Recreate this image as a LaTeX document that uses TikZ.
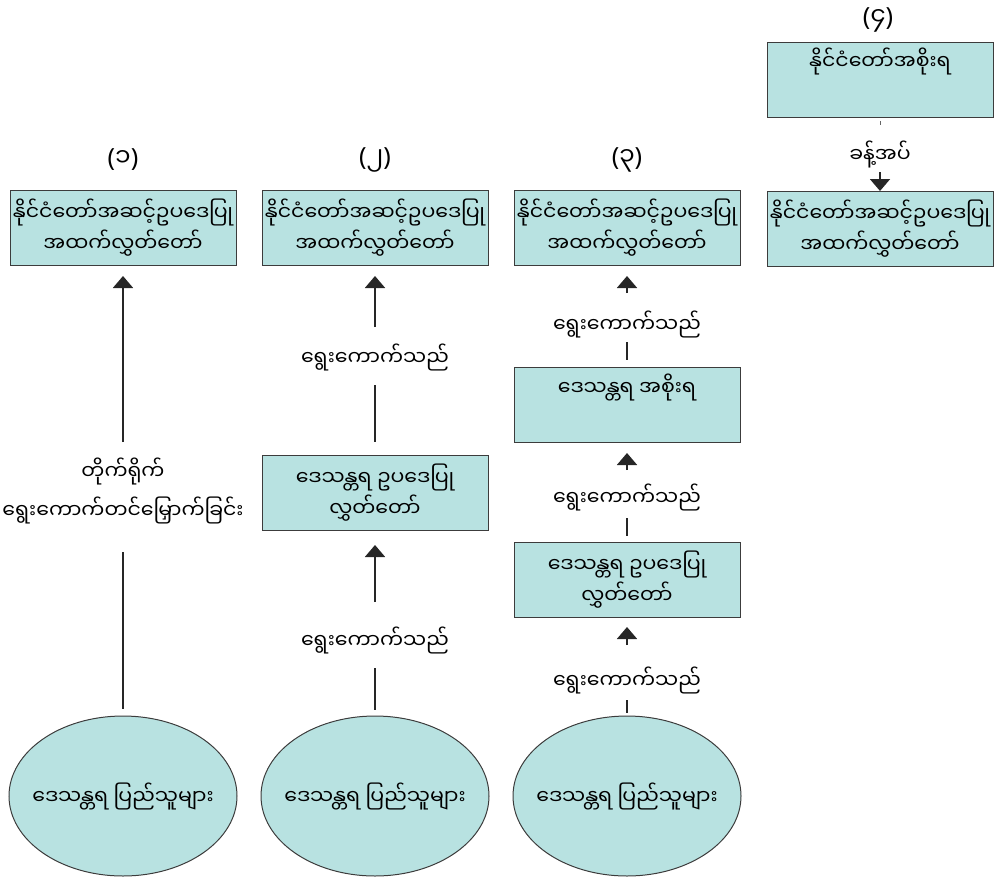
\documentclass[tikz,border=0pt]{standalone}
\usepackage{fontspec}
\setmainfont{Noto Sans}
\newfontfamily\mya[Script=Myanmar]{Noto Sans Myanmar UI}
\newcommand\hdlabel[1]{{\normalfont(}#1{\normalfont)}}
\usetikzlibrary{shapes.geometric,arrows.meta}
\definecolor{boxfill}{RGB}{184,226,225}
\definecolor{boxdraw}{RGB}{60,60,60}
\begin{document}
\begin{tikzpicture}[x=1pt,y=-1pt,
  every node/.style={font=\mya\fontsize{20.5}{31}\selectfont},
  box/.style={draw=boxdraw, line width=1pt, fill=boxfill, minimum width=226pt, minimum height=75pt, inner sep=1pt, align=center},
  oval/.style={ellipse, draw=boxdraw, line width=1pt, fill=boxfill, minimum width=228pt, minimum height=160pt, inner xsep=-25pt, inner ysep=0pt},
  lbl/.style={inner sep=0pt, align=center},
  head/.style={font=\mya\fontsize{25}{28}\selectfont},
  conn/.style={line width=1.8pt, draw=black!85},
  arr/.style={conn, -{Triangle[width=20pt,length=12pt]}},
]
\useasboundingbox (0,0) rectangle (1000,880);

% column 1
\node[head] (L1) at (123,160) {\hdlabel{၁}};
\node[box] (B1) at (123,228) {နိုင်ငံတော်အဆင့်ဥပဒေပြု\\အထက်လွှတ်တော်};
\node[lbl, font=\mya\fontsize{20.5}{39}\selectfont] (T1) at (123,491) {တိုက်ရိုက်\\ရွေးကောက်တင်မြှောက်ခြင်း};
\node[oval] (E1) at (123,796) {ဒေသန္တရ ပြည်သူများ};
\draw[arr, shorten <=49pt, shorten >=10pt] (T1.center) -- (B1.south);
\draw[conn, shorten <=61pt, shorten >=7pt] (T1.center) -- (E1.north);

% column 2
\node[head] (L2) at (375,160) {\hdlabel{၂}};
\node[box] (B2) at (375,228) {နိုင်ငံတော်အဆင့်ဥပဒေပြု\\အထက်လွှတ်တော်};
\node[lbl] (T2a) at (375,358) {ရွေးကောက်သည်};
\node[box] (B2b) at (375,493) {ဒေသန္တရ ဥပဒေပြု\\လွှတ်တော်};
\node[lbl] (T2b) at (375,640) {ရွေးကောက်သည်};
\node[oval] (E2) at (375,796) {ဒေသန္တရ ပြည်သူများ};
\draw[arr, shorten <=31pt, shorten >=10pt] (T2a.center) -- (B2.south);
\draw[conn, shorten <=27pt, shorten >=13pt] (T2a.center) -- (B2b.north);
\draw[arr, shorten <=38pt, shorten >=14pt] (T2b.center) -- (B2b.south);
\draw[conn, shorten <=28pt, shorten >=6pt] (T2b.center) -- (E2.north);

% column 3
\node[head] (L3) at (627,160) {\hdlabel{၃}};
\node[box] (B3) at (627,228) {နိုင်ငံတော်အဆင့်ဥပဒေပြု\\အထက်လွှတ်တော်};
\node[lbl] (T3a) at (627,325) {ရွေးကောက်သည်};
\node[box, text height=10pt, text depth=30pt] (B3b) at (627,405) {ဒေသန္တရ အစိုးရ};
\node[lbl] (T3b) at (627,497) {ရွေးကောက်သည်};
\node[box] (B3c) at (627,580) {ဒေသန္တရ ဥပဒေပြု\\လွှတ်တော်};
\node[lbl] (T3c) at (627,680) {ရွေးကောက်သည်};
\node[oval] (E3) at (627,796) {ဒေသန္တရ ပြည်သူများ};
\draw[arr, shorten <=32pt, shorten >=10pt] (T3a.center) -- (B3.south);
\draw[conn, shorten <=17pt, shorten >=7pt] (T3a.center) -- (B3b.north);
\draw[arr, shorten <=27pt, shorten >=10pt] (T3b.center) -- (B3b.south);
\draw[conn, shorten <=21pt, shorten >=6pt] (T3b.center) -- (B3c.north);
\draw[arr, shorten <=35pt, shorten >=9pt] (T3c.center) -- (B3c.south);
\draw[conn, shorten <=20pt, shorten >=3pt] (T3c.center) -- (E3.north);

% column 4
\node[head] (L4) at (878,20) {\hdlabel{၄}};
\node[box, text height=10pt, text depth=30pt] (B4a) at (880,80) {နိုင်ငံတော်အစိုးရ};
\node[lbl] (K4) at (880,155) {ခန့်အပ်};
\node[box] (B4b) at (880,229) {နိုင်ငံတော်အဆင့်ဥပဒေပြု\\အထက်လွှတ်တော်};
\draw[line width=1pt, draw=black!60, shorten <=3pt, shorten >=30pt] (B4a.south) -- (K4.center);
\draw[arr, shorten <=17pt] (K4.center) -- (B4b.north);
\end{tikzpicture}
\end{document}
